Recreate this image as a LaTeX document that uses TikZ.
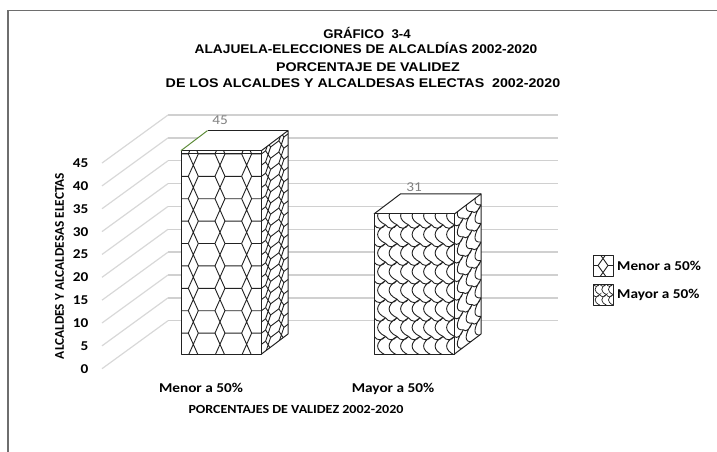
\documentclass[tikz,border=0pt]{standalone}
\usepackage{fontspec}
\setmainfont{Liberation Sans}
\newfontfamily\calib{Carlito}
\usepackage{tikz}

\definecolor{gridgray}{HTML}{D0D0D0}
\definecolor{sidegray}{HTML}{D8D8D8}
\definecolor{framegray}{HTML}{6E6E6E}
\definecolor{lblgray}{HTML}{808080}
\definecolor{topgreen}{HTML}{5E8C3A}
\definecolor{patdark}{HTML}{222222}

\tikzset{
  ttl/.style={font=\fontsize{12.6}{14}\selectfont\bfseries, xscale=#1, inner sep=0pt, anchor=base},
  ttl/.default=1.05,
  tck/.style={font=\calib\bfseries\fontsize{13.5}{15}\selectfont, xscale=1.13, inner sep=0pt, anchor=base east},
  cat/.style={font=\calib\bfseries\fontsize{13.5}{15}\selectfont, xscale=1.13, inner sep=0pt, anchor=base},
  axt/.style={font=\calib\bfseries\fontsize{12.4}{14}\selectfont, xscale=1.13, inner sep=0pt, anchor=base},
  dlbl/.style={font=\calib\fontsize{13.5}{15}\selectfont, text=lblgray, xscale=1.13, inner sep=0pt, anchor=base},
  leg/.style={font=\calib\bfseries\fontsize{13.5}{15}\selectfont, xscale=1.13, inner sep=0pt, anchor=base west},
  grd/.style={gridgray, line width=1.4pt},
  sgrd/.style={sidegray, line width=1.2pt},
  pat/.style={patdark, line width=0.9pt},
  barln/.style={patdark, line width=1pt, line join=round},
}

\begin{document}
\begin{tikzpicture}[x=1pt,y=-1pt]
    \useasboundingbox (0,0) rectangle (717,452);
    % frame
    \draw[framegray, line width=1.6pt] (8,452) -- (8,10.5) -- (717,10.5);

    % title
    \node[ttl] (ttl1) at (367,38.5) {GRÁFICO\ \ 3-4};
    \node[ttl=1.09] (ttl2) at (366,54) {ALAJUELA-ELECCIONES DE ALCALDÍAS 2002-2020};
    \node[ttl=1.13] (ttl3) at (368,71) {PORCENTAJE DE VALIDEZ};
    \node[ttl=1.13] (ttl4) at (363,88) {DE LOS ALCALDES Y ALCALDESAS ELECTAS\ \ 2002-2020};

    % walls
    \foreach \v in {0,5,...,45}{
        \draw[grd] (168,{320.7-4.57*\v}) -- (558,{320.7-4.57*\v});
        \draw[sgrd] (102,{368.7-4.57*\v}) -- (168,{320.7-4.57*\v});
        \node[tck] (tk\v) at (88.5,{373.1-4.57*\v}) {\v};
    }

    % bar Menor a 50%
    \fill[white] (181,354) rectangle (261.5,150.6);
    \fill[white] (261.5,354) -- (288,334) -- (288,130.6) -- (261.5,150.6) -- cycle;
    \fill[white] (181,150.6) -- (207.5,130.6) -- (288,130.6) -- (261.5,150.6) -- cycle;
    \begin{scope}
        \clip (181,354) rectangle (261.5,150.6);
        \foreach \k in {0,...,9}{
            \pgfmathsetmacro\ya{355.5-22.4*\k}
            \pgfmathsetmacro\yb{\ya-22.4}
            \foreach \c in {-1,...,3}{
                \pgfmathsetmacro\vc{193.3+26.67*\c}
                \draw[pat] ({\vc-5},\ya) -- ({\vc+5},\yb) ({\vc+5},\ya) -- ({\vc-5},\yb)
                    ({\vc+5},\ya) -- ({\vc+21.67},\ya);
            }
        }
        \draw[pat] (181,153.6) -- (261.5,153.6);
    \end{scope}
    \begin{scope}[shift={(261.5,0)}, yslant=0.755]
        \clip (0,354) rectangle (26.5,150.6);
        \foreach \k in {0,...,19}{
            \pgfmathsetmacro\ya{355.5-11.2*\k}
            \pgfmathsetmacro\yb{\ya-11.2}
            \foreach \c in {-1,...,2}{
                \pgfmathsetmacro\vc{6.6+13.25*\c}
                \draw[pat] ({\vc-2.5},\ya) -- ({\vc+2.5},\yb) ({\vc+2.5},\ya) -- ({\vc-2.5},\yb)
                    ({\vc+2.5},\ya) -- ({\vc+10.75},\ya);
            }
        }
    \end{scope}
    \draw[barln] (181,354) rectangle (261.5,150.6);
    \draw[barln] (261.5,354) -- (288,334) -- (288,130.6) -- (261.5,150.6);
    \draw[barln] (207.5,130.6) -- (288,130.6);
    \draw[topgreen, line width=1pt] (181,150.6) -- (207.5,130.6);

    % bar Mayor a 50%
    \fill[white] (374,354) rectangle (454.5,213.9);
    \fill[white] (454.5,354) -- (481,334) -- (481,193.9) -- (454.5,213.9) -- cycle;
    \fill[white] (374,213.9) -- (400.5,193.9) -- (481,193.9) -- (454.5,213.9) -- cycle;
    \begin{scope}
        \clip (374,354) rectangle (454.5,213.9);
        \foreach \k in {0,...,8}{
            \pgfmathsetmacro\yb{355-18.6*\k}
            \pgfmathsetmacro\yt{\yb-18.6}
            \foreach \i in {0,...,6}{
                \pgfmathsetmacro\xa{374+11.5*\i}
                \pgfmathsetmacro\xb{\xa+11.5}
                \draw[pat] (\xa,\yt) .. controls ({\xa+2.9},{\yt+4.5}) and ({\xb-2.9},{\yt+4.5}) .. (\xb,\yt)
                    .. controls ({\xa+1},{\yt+6}) and ({\xa+1},{\yb-5}) .. (\xb,\yb);
            }
        }
    \end{scope}
    \begin{scope}[shift={(454.5,0)}, yslant=0.755]
        \clip (0,354) rectangle (26.5,213.9);
        \foreach \k in {0,...,8}{
            \pgfmathsetmacro\yb{355-18.6*\k}
            \pgfmathsetmacro\yt{\yb-18.6}
            \foreach \i in {0,...,2}{
                \pgfmathsetmacro\xa{8.83*\i}
                \pgfmathsetmacro\xb{\xa+8.83}
                \draw[pat] (\xa,\yt) .. controls ({\xa+2.2},{\yt+4.5}) and ({\xb-2.2},{\yt+4.5}) .. (\xb,\yt)
                    .. controls ({\xa+0.8},{\yt+6}) and ({\xa+0.8},{\yb-5}) .. (\xb,\yb);
            }
        }
    \end{scope}
    \draw[barln] (374,354) rectangle (454.5,213.9);
    \draw[barln] (454.5,354) -- (481,334) -- (481,193.9) -- (454.5,213.9);
    \draw[barln] (374,213.9) -- (400.5,193.9) -- (481,193.9);

    % data labels
    \node[dlbl] (val1) at (220,124.3) {45};
    \node[dlbl] (val2) at (414,191) {31};

    % axes
    \node[cat] (cat1) at (201,392.7) {Menor a 50\%};
    \node[cat] (cat2) at (393,392.7) {Mayor a 50\%};
    \node[axt] (xtitle) at (296,413.3) {PORCENTAJES DE VALIDEZ 2002-2020};
    \node[font=\calib\bfseries\fontsize{13.3}{15}\selectfont, rotate=90, inner sep=0pt] (ytitle) at (59.5,266) {ALCALDES Y ALCALDESAS ELECTAS};

    % legend
    \fill[white] (593,255) rectangle (613,276);
    \begin{scope}
        \clip (593,255) rectangle (613,276);
        \draw[pat] (593,265.5) -- (598,265.5) (608,265.5) -- (613,265.5)
            (598,265.5) -- (608,251.5) (608,265.5) -- (598,251.5)
            (598,265.5) -- (608,279.5) (608,265.5) -- (598,279.5);
    \end{scope}
    \draw[barln, line width=0.8pt] (593,255) rectangle (613,276);
    \begin{scope}
        \clip (593,284) rectangle (613,305);
        \foreach \k in {0,...,2}{
            \pgfmathsetmacro\yb{305-10.5*\k}
            \pgfmathsetmacro\yt{\yb-10.5}
            \foreach \i in {0,...,2}{
                \pgfmathsetmacro\xa{593+6.67*\i}
                \pgfmathsetmacro\xb{\xa+6.67}
                \draw[pat, line width=0.7pt] (\xa,\yt) .. controls ({\xa+1.7},{\yt+3}) and ({\xb-1.7},{\yt+3}) .. (\xb,\yt)
                    .. controls ({\xa+0.6},{\yt+3.5}) and ({\xa+0.6},{\yb-3}) .. (\xb,\yb);
            }
        }
    \end{scope}
    \draw[barln, line width=0.8pt] (593,284) rectangle (613,305);
    \node[leg] (legA) at (617,270.7) {Menor a 50\%};
    \node[leg] (legB) at (617,298.3) {Mayor a 50\%};
\end{tikzpicture}
\end{document}
